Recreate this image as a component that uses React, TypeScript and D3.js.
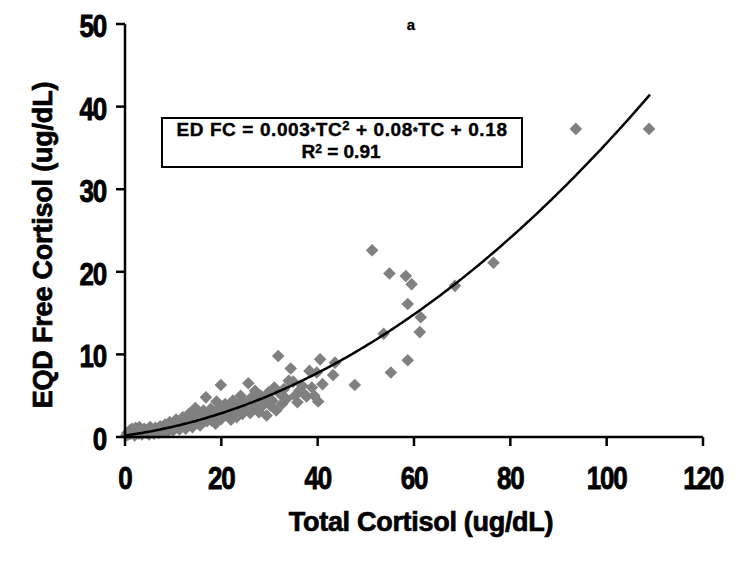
import React from "react";
import * as d3 from "d3";

const xTicks = [0, 20, 40, 60, 80, 100, 120];
const yTicks = [0, 10, 20, 30, 40, 50];

// [Total Cortisol, EQD Free Cortisol]
const points: [number, number][] = [
  [0.3, 0.2], [0.5, 0.5], [0.8, 0.3], [1, 0.8], [1.2, 0.4], [1.5, 1.0], [1.8, 0.6], [2, 0.2],
  [2.2, 1.1], [2.5, 0.7], [2.8, 0.4], [3, 1.2], [3.2, 0.9], [3.5, 0.3], [3.8, 0.6], [4, 1.0],
  [4.3, 0.5], [4.6, 0.8], [5, 0.3], [5.2, 1.2], [5.5, 0.6], [5.8, 0.9], [6, 0.4], [6.3, 1.1],
  [6.6, 0.7], [7, 0.5], [7.3, 1.3], [7.6, 0.9], [8, 0.6], [8.3, 1.5], [8.6, 1.0], [9, 0.7],
  [9.3, 1.8], [9.6, 1.2], [10, 0.8],
  [10.3, 1.6], [10.6, 2.1], [11, 1.2], [11.3, 0.9], [11.6, 1.8], [12, 2.4], [12.3, 1.4], [12.6, 1.0],
  [13, 2.0], [13.3, 2.8], [13.6, 1.6], [14, 1.2], [14.3, 2.4], [14.6, 3.5], [15, 1.8], [15.3, 2.9],
  [15.6, 1.4], [16, 2.2], [16.3, 3.2], [16.8, 4.8], [17, 1.9], [17.4, 2.6], [17.8, 3.4], [18, 2.0],
  [18.4, 3.0], [18.8, 1.6], [19, 4.3], [19.3, 2.5], [19.6, 3.6], [19.9, 6.3], [20, 2.2],
  [20.4, 3.2], [20.8, 4.0], [21.2, 2.6], [21.6, 3.6], [22, 2.1], [22.4, 4.4], [22.8, 3.0], [23.2, 2.4],
  [23.6, 3.8], [24, 5.0], [24.4, 2.8], [24.8, 4.2], [25.2, 3.4], [25.6, 6.5], [26, 2.9], [26.3, 4.8],
  [26.7, 3.6], [27, 5.6], [27.4, 4.2], [27.8, 3.0], [28.2, 5.0], [28.6, 3.8], [29, 4.6], [29.4, 2.6],
  [29.8, 5.4], [30.2, 3.8],
  [30.6, 4.4], [31, 6.0], [31.4, 3.2], [31.8, 9.8], [32.2, 5.2], [32.6, 4.0], [33, 5.8], [33.5, 4.6],
  [34, 6.8], [34.4, 8.3], [34.9, 6.7], [35.3, 5.0], [35.8, 4.2], [36.2, 5.6], [36.8, 6.2], [37.2, 5.2],
  [37.7, 4.9], [38.3, 8.0], [38.8, 6.0], [39.3, 5.0], [39.8, 7.8], [40.1, 4.3], [40.5, 9.4], [41, 6.4],
  [43.2, 7.5], [43.6, 9.0], [47.7, 6.3],
  [51.3, 22.6], [53.7, 12.5], [54.9, 19.8], [55.2, 7.8], [58.3, 19.5], [58.7, 16.1], [58.7, 9.3],
  [59.5, 18.5], [61.2, 12.7], [61.4, 14.5], [68.5, 18.3], [76.5, 21.1], [93.6, 37.3], [108.8, 37.3],
];

// fitted trend line coefficients (as drawn)
const fitA = 0.00274;
const fitB = 0.08;
const fitC = 0.18;
const fitMax = 109;

const W = 750;
const H = 563;
const FONT = "'Liberation Sans', Arial, Helvetica, sans-serif";

export default function App() {
  const x = d3.scaleLinear().domain([0, 120]).range([125, 703]);
  const y = d3.scaleLinear().domain([0, 50]).range([437, 24]);

  const curveData = d3.range(0, fitMax + 0.01, 0.5).map((t) => [t, fitA * t * t + fitB * t + fitC]);
  const line = d3
    .line<number[]>()
    .x((d) => x(d[0]))
    .y((d) => y(d[1]))
    .curve(d3.curveMonotoneX);

  const diamond = (cx: number, cy: number, r: number) =>
    `M${cx},${cy - r}L${cx + r},${cy}L${cx},${cy + r}L${cx - r},${cy}Z`;

  const tickText = {
    fontWeight: "bold" as const,
    fontSize: 26,
    letterSpacing: -1.2,
    stroke: "#000",
    strokeWidth: 0.7,
    fill: "#000",
  };

  return (
    <svg
      width={W}
      height={H}
      style={{ position: "absolute", left: 0, top: 0, background: "#fff" }}
      fontFamily={FONT}
    >
      <rect x={0} y={0} width={W} height={H} fill="#fff" />
      {/* points */}
      <g fill="#808080">
        {points.map((p, i) => (
          <path key={i} d={diamond(x(p[0]), y(p[1]), 6.3)} />
        ))}
      </g>
      {/* trend line */}
      <path d={line(curveData) || ""} fill="none" stroke="#000" strokeWidth={2.5} />

      {/* axes */}
      <g stroke="#000" strokeWidth={2.5}>
        <line x1={x(0)} x2={x(120)} y1={y(0)} y2={y(0)} />
        <line x1={x(0)} x2={x(0)} y1={y(0)} y2={y(50)} />
        {xTicks.map((t) => (
          <line key={"xt" + t} x1={x(t)} x2={x(t)} y1={y(0)} y2={y(0) + 9} />
        ))}
        {yTicks.map((t) => (
          <line key={"yt" + t} x1={x(0) - 9} x2={x(0)} y1={y(t)} y2={y(t)} />
        ))}
      </g>
      <g>
        {xTicks.map((t) => (
          <text
            key={"xl" + t}
            transform={`translate(${x(t)},489) scale(1,1.18)`}
            textAnchor="middle"
            {...tickText}
          >
            {t}
          </text>
        ))}
        {yTicks.map((t) => (
          <text
            key={"yl" + t}
            transform={`translate(106,${y(t) + 13}) scale(1,1.18)`}
            textAnchor="end"
            {...tickText}
          >
            {t}
          </text>
        ))}
      </g>

      {/* axis titles */}
      <text
        x={421}
        y={531}
        textAnchor="middle"
        fontWeight="bold"
        fontSize={27}
        letterSpacing={-0.3}
        stroke="#000"
        strokeWidth={0.7}
      >
        Total Cortisol (ug/dL)
      </text>
      <text
        transform="translate(52,245) rotate(-90)"
        textAnchor="middle"
        fontWeight="bold"
        fontSize={27}
        letterSpacing={-0.2}
        stroke="#000"
        strokeWidth={0.7}
      >
        EQD Free Cortisol (ug/dL)
      </text>

      {/* panel label */}
      <text x={411} y={30} textAnchor="middle" fontWeight="bold" fontSize={15} stroke="#000" strokeWidth={0.3}>
        a
      </text>

      {/* equation box */}
      <rect x={162} y={118} width={360} height={49} fill="#fff" stroke="#000" strokeWidth={2} />
      <g fontWeight="bold" stroke="#000" strokeWidth={0.4}>
        <text x={342} y={136} textAnchor="middle" fontSize={19} letterSpacing={0.6}>
          ED FC = 0.003<tspan fontSize={12}>*</tspan>TC<tspan fontSize={13} dy={-6}>2</tspan>
          <tspan dy={6}> + 0.08</tspan><tspan fontSize={12}>*</tspan>TC + 0.18
        </text>
        <text x={341} y={158} textAnchor="middle" fontSize={19}>
          R<tspan fontSize={12} dy={-5}>2</tspan>
          <tspan dy={5}> = 0.91</tspan>
        </text>
      </g>
    </svg>
  );
}
